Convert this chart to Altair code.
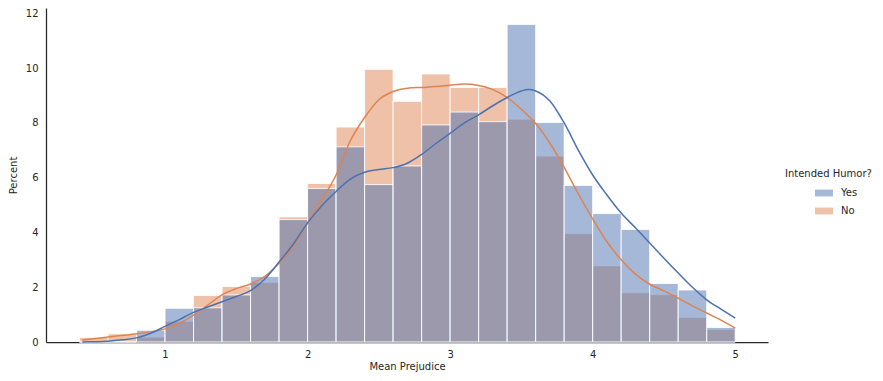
import altair as alt
import pandas as pd

# Histogram bins (width 0.2) and percent per group
bin_starts = [0.4, 0.6, 0.8, 1.0, 1.2, 1.4, 1.6, 1.8, 2.0, 2.2, 2.4, 2.6,
              2.8, 3.0, 3.2, 3.4, 3.6, 3.8, 4.0, 4.2, 4.4, 4.6, 4.8]
bin_width = 0.2
pct_yes = [0.0, 0.0, 0.43, 1.23, 1.25, 1.72, 2.39, 4.47, 5.61, 7.13, 5.75, 6.43,
           7.93, 8.40, 8.05, 11.60, 8.02, 5.72, 4.69, 4.11, 2.14, 1.90, 0.53]
pct_no = [0.17, 0.30, 0.18, 0.76, 1.70, 2.03, 2.18, 4.57, 5.79, 7.85, 9.96, 8.79,
          9.79, 9.30, 9.30, 8.14, 6.79, 3.96, 2.78, 1.80, 1.73, 0.90, 0.46]

# KDE curves (scaled to percent-per-bin)
kde_x = [0.42, 0.5, 0.6, 0.7, 0.8, 0.9, 1.0, 1.1, 1.2, 1.3, 1.4, 1.5, 1.6, 1.7,
         1.8, 1.9, 2.0, 2.1, 2.2, 2.3, 2.4, 2.5, 2.6, 2.7, 2.8, 2.9, 3.0, 3.1,
         3.2, 3.3, 3.4, 3.5, 3.55, 3.6, 3.7, 3.8, 3.9, 4.0, 4.1, 4.2, 4.3, 4.4,
         4.5, 4.6, 4.7, 4.8, 4.9, 5.0]
kde_no = [0.07, 0.12, 0.18, 0.24, 0.30, 0.37, 0.48, 0.68, 0.98, 1.35, 1.72, 1.95,
          2.12, 2.40, 2.88, 3.50, 4.35, 5.2, 6.1, 7.35, 8.2, 8.85, 9.15, 9.27,
          9.30, 9.33, 9.38, 9.42, 9.37, 9.22, 8.93, 8.50, 8.25, 7.98, 7.26, 6.38,
          5.40, 4.50, 3.66, 3.00, 2.48, 2.11, 1.87, 1.60, 1.32, 1.06, 0.80, 0.51]
kde_yes = [0.0, 0.01, 0.03, 0.08, 0.15, 0.32, 0.57, 0.82, 1.08, 1.28, 1.47, 1.66,
           1.88, 2.3, 2.92, 3.58, 4.35, 4.98, 5.5, 5.95, 6.2, 6.3, 6.37, 6.53,
           6.85, 7.25, 7.62, 8.0, 8.3, 8.63, 8.93, 9.17, 9.22, 9.17, 8.8, 8.0,
           7.0, 6.1, 5.37, 4.71, 4.17, 3.62, 3.06, 2.52, 2.0, 1.54, 1.20, 0.87]

groups = ["Yes", "No"]
colors = ["#4C72B0", "#DD8452"]
x_ticks = [1, 2, 3, 4, 5]
y_ticks = [0, 2, 4, 6, 8, 10, 12]

rows = []
for g, vals in (("No", pct_no), ("Yes", pct_yes)):
    for s, v in zip(bin_starts, vals):
        rows.append({"group": g, "start": s, "end": s + bin_width, "pct": v,
                     "zero": 0.0})
hist_df = pd.DataFrame(rows)

krows = []
for g, vals in (("No", kde_no), ("Yes", kde_yes)):
    for i, (xv, yv) in enumerate(zip(kde_x, vals)):
        krows.append({"group": g, "x": xv, "y": yv, "i": i})
kde_df = pd.DataFrame(krows)

xscale = alt.Scale(domain=[0.165, 5.23], nice=False, zero=False)
yscale = alt.Scale(domain=[0, 12.2], nice=False)
fill_scale = alt.Scale(domain=groups, range=colors)

TXT = "#262626"

bars = alt.Chart(hist_df).mark_rect(
    fillOpacity=0.5, stroke="white", strokeWidth=1, strokeOpacity=0.85
).encode(
    x=alt.X("start:Q", scale=xscale,
            axis=alt.Axis(values=x_ticks, format="d", title="Mean Prejudice",
                          grid=False, ticks=False, labelPadding=7,
                          titlePadding=2)),
    x2="end:Q",
    y=alt.Y("pct:Q", scale=yscale,
            axis=alt.Axis(values=y_ticks, title="Percent", grid=False,
                          ticks=False, labelPadding=8, titlePadding=7)),
    y2="zero:Q",
    fill=alt.Fill("group:N", scale=fill_scale,
                  legend=alt.Legend(title="Intended Humor?", orient="none",
                                    legendX=739, legendY=161,
                                    symbolType="M-1,-0.38L1,-0.38L1,0.38L-1,0.38Z",
                                    symbolSize=324, symbolOpacity=0.5,
                                    symbolStrokeWidth=0,
                                    symbolOffset=30, labelOffset=8,
                                    rowPadding=4, titlePadding=5)),
)

lines = alt.Chart(kde_df).mark_line(strokeWidth=1.5, interpolate="monotone").encode(
    x=alt.X("x:Q", scale=xscale),
    y=alt.Y("y:Q", scale=yscale),
    stroke=alt.Stroke("group:N", scale=alt.Scale(domain=groups, range=colors),
                      legend=None),
    detail="group:N",
    order="i:Q",
)

chart = alt.layer(bars, lines).resolve_scale(fill="independent").properties(
    width=722, height=334,
    autosize=alt.AutoSizeParams(type="none"),
    padding={"left": 38, "top": 0, "right": 107, "bottom": 31},
).configure_view(stroke=None).configure_axis(
    domainColor=TXT, domainWidth=1.25, labelColor=TXT, titleColor=TXT,
    labelFont="DejaVu Sans", titleFont="DejaVu Sans", labelFontSize=10,
    titleFontSize=10, titleFontWeight="normal",
).configure_legend(
    labelFont="DejaVu Sans", titleFont="DejaVu Sans", labelFontSize=10,
    titleFontSize=10, titleFontWeight="normal", labelColor=TXT, titleColor=TXT,
)

chart.save("out.html", embed_options={"renderer": "svg", "actions": False})
